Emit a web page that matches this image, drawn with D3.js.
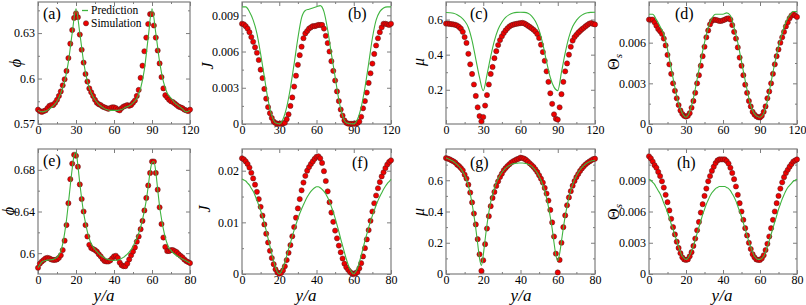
<!DOCTYPE html>
<html>
<head>
<meta charset="utf-8">
<script src="https://cdn.jsdelivr.net/npm/d3@7"></script>
<style>
body{margin:0;background:#fff}
text{font-family:"Liberation Serif","Times New Roman","DejaVu Serif",serif;fill:#000}
</style>
</head>
<body>
<svg id="fig" width="806" height="305"></svg>
<script>
// sample positions along y/a
var xTop = d3.range(0, 120.01, 1.5)
var xTopPred = d3.range(0, 120.01, 3)
var xBot = d3.range(0, 80.01, 1)

// (a) phi, L = 120
var phiSimA = [0.5795,0.5785,0.578,0.5785,0.579,0.5805,0.582,0.5825,0.5825,0.584,
 0.586,0.5885,0.5915,0.5955,0.5995,0.605,0.6135,0.623,0.632,0.64,
 0.643,0.6405,0.629,0.619,0.6105,0.603,0.598,0.5935,0.591,0.5885,
 0.586,0.584,0.583,0.5825,0.5815,0.581,0.5805,0.58,0.5805,0.581,
 0.581,0.5805,0.5795,0.579,0.5805,0.5815,0.582,0.5825,0.582,0.5825,
 0.584,0.5855,0.5885,0.5925,0.6005,0.6085,0.618,0.627,0.636,0.6425,
 0.6425,0.635,0.627,0.6185,0.61,0.601,0.5935,0.589,0.5875,0.586,
 0.585,0.5845,0.5835,0.5825,0.5815,0.581,0.5805,0.5795,0.579,0.5785,
 0.5795]
var phiPredA = [0.579,0.578,0.5785,0.58,0.582,0.585,0.5905,0.598,0.611,0.63,
 0.646,0.63,0.611,0.598,0.5905,0.586,0.583,0.581,0.5795,0.579,
 0.579,0.579,0.5795,0.581,0.582,0.584,0.587,0.5935,0.606,0.627,
 0.646,0.63,0.611,0.598,0.5905,0.587,0.584,0.582,0.58,0.578,
 0.579]

// (b) J
var jSimB = [0.0083,0.00825,0.0081,0.0079,0.0076,0.0072,0.0068,0.00635,0.0059,0.0053,
 0.0045,0.0038,0.0029,0.0021,0.0014,0.0009,0.0005,0.0002,0.00008,0.00003,
 0.00002,0.00003,0.00006,0.0001,0.0004,0.0008,0.0015,0.0022,0.0031,0.004,
 0.0049,0.0057,0.0064,0.0071,0.0075,0.0077,0.0079,0.008,0.0081,0.0081,
 0.00815,0.0082,0.0082,0.0082,0.0079,0.0073,0.0067,0.006,0.0052,0.0044,
 0.0036,0.0027,0.0019,0.0012,0.0007,0.0003,0.0001,0.00003,0.00002,0.00002,
 0.00002,0.00003,0.00008,0.0002,0.0006,0.0013,0.0019,0.0026,0.0034,0.0042,
 0.005,0.0058,0.0065,0.0071,0.0076,0.008,0.0083,0.0083,0.00825,0.0082,
 0.0083]
var jPredB = [0.0097,0.0097,0.0093,0.0086,0.0075,0.0058,0.0039,0.002,0.0007,0.0001,
 0.00001,0.0004,0.0014,0.003,0.005,0.0071,0.0088,0.0094,0.0095,0.0096,
 0.0097,0.0098,0.0093,0.0078,0.0058,0.0039,0.002,0.0007,0.0001,0.00002,
 0.00001,0.0004,0.0014,0.003,0.005,0.0071,0.0086,0.0093,0.0096,0.0097,
 0.0097]

// (c) mu
var muSimC = [0.577,0.577,0.575,0.574,0.572,0.57,0.566,0.558,0.548,0.53,
 0.5,0.467,0.405,0.345,0.29,0.23,0.165,0.1,0.05,0.02,
 0.045,0.11,0.17,0.23,0.29,0.33,0.38,0.42,0.455,0.483,
 0.505,0.523,0.538,0.55,0.56,0.567,0.571,0.574,0.576,0.578,
 0.58,0.581,0.578,0.572,0.565,0.558,0.55,0.542,0.532,0.518,
 0.495,0.457,0.415,0.365,0.305,0.245,0.18,0.12,0.06,0.035,
 0.03,0.1,0.175,0.245,0.305,0.35,0.4,0.445,0.48,0.5,
 0.513,0.525,0.535,0.545,0.553,0.562,0.57,0.577,0.58,0.575,
 0.572]
var muPredC = [0.64,0.639,0.636,0.628,0.614,0.592,0.555,0.48,0.375,0.27,
 0.195,0.285,0.39,0.48,0.545,0.585,0.612,0.628,0.637,0.641,
 0.642,0.641,0.636,0.62,0.59,0.54,0.46,0.36,0.27,0.215,
 0.195,0.3,0.41,0.5,0.56,0.595,0.618,0.632,0.639,0.641,
 0.642]

// (d) Theta_s
var thSimD = [0.0077,0.0077,0.0077,0.0075,0.00725,0.007,0.00685,0.00665,0.0063,0.0058,
 0.0051,0.0044,0.0037,0.003,0.00245,0.0019,0.0014,0.001,0.00075,0.0006,
 0.00055,0.0006,0.0008,0.0012,0.0017,0.0023,0.003,0.0036,0.0043,0.005,
 0.0057,0.0064,0.0069,0.00735,0.0076,0.0077,0.00768,0.00765,0.0076,0.0076,
 0.00765,0.0077,0.00777,0.0078,0.0077,0.0073,0.0068,0.0063,0.00565,0.0049,
 0.0043,0.0036,0.0029,0.0023,0.0017,0.0013,0.0009,0.0007,0.00057,0.0005,
 0.00048,0.0006,0.0009,0.0013,0.0019,0.0024,0.003,0.0037,0.0044,0.005,
 0.0055,0.006,0.0064,0.0068,0.0072,0.0075,0.0078,0.008,0.0081,0.008,
 0.0079]
var thPredD = [0.0081,0.0081,0.0077,0.0072,0.0066,0.0055,0.0041,0.0027,0.0015,0.0008,
 0.0005,0.0009,0.0019,0.0033,0.0047,0.006,0.0071,0.0078,0.0081,0.0081,
 0.0081,0.0082,0.008,0.0071,0.006,0.0046,0.0032,0.0019,0.001,0.0006,
 0.0005,0.0008,0.0017,0.0031,0.0045,0.0057,0.0067,0.0075,0.008,0.0083,
 0.0083]

// (e) phi, L = 80
var phiSimE = [0.586,0.59,0.592,0.5935,0.595,0.5955,0.595,0.594,0.5935,0.5935,
 0.594,0.5955,0.598,0.603,0.612,0.627,0.648,0.671,0.686,0.6945,
 0.6935,0.683,0.666,0.652,0.64,0.627,0.616,0.608,0.605,0.604,
 0.603,0.6015,0.599,0.597,0.5945,0.5925,0.592,0.592,0.593,0.595,
 0.597,0.5975,0.5955,0.591,0.5885,0.5875,0.5875,0.59,0.594,0.598,
 0.6015,0.6055,0.611,0.616,0.623,0.631,0.641,0.653,0.665,0.677,
 0.688,0.688,0.677,0.661,0.644,0.628,0.615,0.606,0.602,0.602,
 0.603,0.603,0.602,0.601,0.599,0.5975,0.596,0.594,0.5925,0.5915,
 0.5905]
var phiPredE = [0.586,0.589,0.5915,0.5925,0.593,0.5933,0.5935,0.5937,0.594,0.595,
 0.596,0.5985,0.602,0.609,0.619,0.632,0.648,0.665,0.681,0.694,
 0.697,0.684,0.667,0.652,0.639,0.629,0.6205,0.614,0.609,0.606,
 0.6035,0.6015,0.5995,0.598,0.5965,0.5955,0.5945,0.594,0.5935,0.5932,
 0.593,0.5932,0.5935,0.594,0.595,0.596,0.5975,0.599,0.601,0.6035,
 0.6065,0.6105,0.6145,0.619,0.625,0.632,0.641,0.651,0.664,0.678,
 0.687,0.688,0.678,0.661,0.645,0.633,0.623,0.615,0.609,0.605,
 0.6025,0.6005,0.599,0.5975,0.5965,0.5955,0.5945,0.5935,0.5925,0.5915,
 0.5905]

// (f) J
var jSimF = [0.0224,0.0222,0.0218,0.0213,0.0206,0.0196,0.0185,0.0173,0.0159,0.0145,
 0.013,0.0113,0.0096,0.0078,0.0061,0.0045,0.0031,0.0019,0.0009,0.0003,
 0.00005,0.0002,0.0007,0.0015,0.0027,0.0041,0.0056,0.0073,0.0091,0.0109,
 0.0127,0.0145,0.0162,0.0177,0.019,0.02,0.0207,0.0213,0.0218,0.0223,
 0.0227,0.0228,0.0224,0.0215,0.0199,0.018,0.016,0.0139,0.0119,0.0101,
 0.0084,0.0069,0.0055,0.0042,0.003,0.002,0.0013,0.0008,0.0004,0.0001,
 0.00002,0.0001,0.0004,0.0011,0.0021,0.0034,0.005,0.0067,0.0085,0.0103,
 0.0121,0.0137,0.0152,0.0166,0.0178,0.0189,0.0197,0.0205,0.0212,0.0217,
 0.022]
var jPredF = [0.0184,0.0182,0.018,0.0176,0.0172,0.0166,0.016,0.0152,0.0143,0.0133,
 0.0123,0.0111,0.0098,0.0084,0.0069,0.0054,0.0039,0.0025,0.0013,0.0004,
 0,0.0004,0.0012,0.0023,0.0035,0.0048,0.006,0.0073,0.0085,0.0096,
 0.0107,0.0117,0.0126,0.0134,0.0142,0.0149,0.0155,0.016,0.0164,0.0167,
 0.0169,0.0169,0.0167,0.0164,0.016,0.0155,0.0148,0.014,0.013,0.012,
 0.0108,0.0095,0.0082,0.0068,0.0055,0.0042,0.0029,0.0018,0.0009,0.0003,
 0,0.0004,0.0011,0.0023,0.0036,0.005,0.0064,0.0077,0.009,0.0102,
 0.0113,0.0123,0.0133,0.0142,0.015,0.0157,0.0164,0.017,0.0175,0.0179,
 0.0183]

// (g) mu
var muSimG = [0.742,0.738,0.734,0.727,0.721,0.713,0.7,0.691,0.678,0.664,
 0.636,0.611,0.572,0.521,0.458,0.387,0.317,0.223,0.126,0.02,
 0.088,0.191,0.291,0.37,0.434,0.487,0.525,0.564,0.593,0.621,
 0.642,0.664,0.678,0.691,0.702,0.713,0.721,0.727,0.734,0.738,
 0.745,0.742,0.738,0.73,0.72,0.708,0.697,0.685,0.67,0.653,
 0.632,0.61,0.585,0.551,0.515,0.47,0.41,0.33,0.24,0.13,
 0.01,0.09,0.2,0.3,0.375,0.44,0.49,0.53,0.565,0.595,
 0.62,0.64,0.66,0.676,0.69,0.702,0.712,0.72,0.728,0.735,
 0.738]
var muPredG = [0.742,0.738,0.733,0.727,0.72,0.711,0.7,0.688,0.673,0.655,
 0.632,0.603,0.565,0.515,0.45,0.375,0.29,0.195,0.1,0.055,
 0.12,0.22,0.315,0.395,0.46,0.51,0.55,0.583,0.61,0.632,
 0.65,0.665,0.677,0.687,0.695,0.701,0.705,0.708,0.709,0.71,
 0.71,0.71,0.709,0.707,0.703,0.697,0.689,0.678,0.664,0.647,
 0.626,0.6,0.568,0.53,0.485,0.43,0.365,0.29,0.2,0.12,
 0.085,0.13,0.21,0.295,0.37,0.435,0.49,0.535,0.572,0.603,
 0.628,0.65,0.667,0.682,0.694,0.704,0.712,0.718,0.723,0.726,
 0.728]

// (h) Theta_s
var thSimH = [0.0113,0.0111,0.0108,0.01045,0.0102,0.0098,0.0094,0.0089,0.0083,0.0076,
 0.0069,0.0061,0.0053,0.0045,0.0038,0.0031,0.0025,0.002,0.0016,0.0014,
 0.00135,0.0014,0.0017,0.0021,0.0027,0.0034,0.0042,0.005,0.0059,0.0067,
 0.0075,0.0082,0.0089,0.0094,0.0099,0.0103,0.01065,0.0109,0.011,0.011,
 0.011,0.011,0.01085,0.0106,0.0102,0.0097,0.0091,0.0084,0.0076,0.0068,
 0.006,0.0052,0.0044,0.0037,0.003,0.0024,0.0019,0.0016,0.0014,0.00135,
 0.00135,0.0015,0.0018,0.0023,0.0029,0.0036,0.0044,0.0052,0.006,0.0068,
 0.0075,0.0082,0.0088,0.0093,0.0097,0.01,0.0103,0.01055,0.0108,0.0109,
 0.011]
var thPredH = [0.0091,0.009,0.0088,0.0086,0.0083,0.008,0.0077,0.0073,0.0068,0.0064,
 0.0059,0.0054,0.0048,0.0043,0.0037,0.0032,0.0026,0.0021,0.0017,0.0015,
 0.0014,0.0015,0.0018,0.0022,0.0027,0.0033,0.0039,0.0045,0.0051,0.0057,
 0.0062,0.0067,0.0071,0.0075,0.0078,0.008,0.0082,0.0083,0.0084,0.0084,
 0.0084,0.0084,0.0083,0.0082,0.008,0.0077,0.0074,0.007,0.0065,0.006,
 0.0055,0.0049,0.0043,0.0037,0.0031,0.0026,0.0021,0.0017,0.0015,0.0014,
 0.0014,0.0015,0.0017,0.0021,0.0026,0.0032,0.0038,0.0044,0.005,0.0056,
 0.0062,0.0067,0.0072,0.0076,0.008,0.0083,0.0085,0.0087,0.0089,0.009,
 0.0091]

// tick values and labels
var xTicksTop = [0, 30, 60, 90, 120]
var xTicksBot = [0, 20, 40, 60, 80]
var yTicksA = [0.57, 0.6, 0.63], yLabA = ["0.57", "0.6", "0.63"]
var yTicksB = [0, 0.003, 0.006, 0.009], yLabB = ["0", "0.003", "0.006", "0.009"]
var yTicksC = [0.2, 0.4, 0.6], yLabC = ["0.2", "0.4", "0.6"]
var yTicksD = [0, 0.003, 0.006], yLabD = ["0", "0.003", "0.006"]
var yTicksE = [0.6, 0.64, 0.68], yLabE = ["0.6", "0.64", "0.68"]
var yTicksF = [0, 0.01, 0.02], yLabF = ["0", "0.01", "0.02"]
var yTicksG = [0, 0.2, 0.4, 0.6], yLabG = ["0", "0.2", "0.4", "0.6"]
var yTicksH = [0, 0.003, 0.006, 0.009], yLabH = ["0", "0.003", "0.006", "0.009"]

var cols = [[38, 190], [242, 391], [446, 595], [649, 797]]
var rows = [[2, 124], [149, 274]]
var frameColor = "#7d7d7d"
var green = "#3fb43f"
var tickFont = "12px"

var panels = [
 {tag:"(a)", c:0, r:0, xs:xTop, sim:phiSimA, xp:xTopPred, pred:phiPredA, xd:[0,120], xt:xTicksTop, yd:[0.57,0.6505], yt:yTicksA, yl:yLabA, lab:"phi", lp:[15,63], tp:[43,19]},
 {tag:"(b)", c:1, r:0, xs:xTop, sim:jSimB, xp:xTopPred, pred:jPredB, xd:[0,120], xt:xTicksTop, yd:[0,0.0101], yt:yTicksB, yl:yLabB, lab:"J", lp:[207,66], tp:[348,19]},
 {tag:"(c)", c:2, r:0, xs:xTop, sim:muSimC, xp:xTopPred, pred:muPredC, xd:[0,120], xt:xTicksTop, yd:[0.005,0.7], yt:yTicksC, yl:yLabC, lab:"mu", lp:[418,62], tp:[470,19]},
 {tag:"(d)", c:3, r:0, xs:xTop, sim:thSimD, xp:xTopPred, pred:thPredD, xd:[0,120], xt:xTicksTop, yd:[0,0.009], yt:yTicksD, yl:yLabD, lab:"theta", lp:[613,62], tp:[675,19]},
 {tag:"(e)", c:0, r:1, xs:xBot, sim:phiSimE, xp:xBot, pred:phiPredE, xd:[0,80], xt:xTicksBot, yd:[0.58,0.70], yt:yTicksE, yl:yLabE, lab:"phi", lp:[8,211], tp:[43,166]},
 {tag:"(f)", c:1, r:1, xs:xBot, sim:jSimF, xp:xBot, pred:jPredF, xd:[0,80], xt:xTicksBot, yd:[0,0.0242], yt:yTicksF, yl:yLabF, lab:"J", lp:[204,209], tp:[352,168]},
 {tag:"(g)", c:2, r:1, xs:xBot, sim:muSimG, xp:xBot, pred:muPredG, xd:[0,80], xt:xTicksBot, yd:[0,0.8], yt:yTicksG, yl:yLabG, lab:"mu", lp:[418,212], tp:[470,168]},
 {tag:"(h)", c:3, r:1, xs:xBot, sim:thSimH, xp:xBot, pred:thPredH, xd:[0,80], xt:xTicksBot, yd:[0,0.012], yt:yTicksH, yl:yLabH, lab:"theta", lp:[613,212], tp:[677,168]}
]
var xLabelCenters = [104, 306, 521, 722]

var svg = d3.select("#fig")

function minorTicks(t, dom){
    var step = t[1]-t[0], out = []
    for(var j=-2; j<t.length+2; j++){
        var v = t[0] + (j+0.5)*step
        if(v > dom[0]+1e-12 && v < dom[1]-1e-12) out.push(v)
    }
    return out
}

function styleAxis(sel){
    sel.attr("font-family", null).attr("font-size", null)
    sel.select(".domain").remove()
    sel.selectAll(".tick line").attr("stroke", frameColor)
    sel.selectAll(".tick text").style("font-size", tickFont).attr("fill", "#000")
}

panels.forEach(function(p){
    var xr = cols[p.c], yr = rows[p.r]
    var x = d3.scaleLinear().domain(p.xd).range(xr)
    var y = d3.scaleLinear().domain(p.yd).range([yr[1], yr[0]])
    var g = svg.append("g")

    var xm = minorTicks(p.xt, p.xd), ym = minorTicks(p.yt, p.yd)

    // ticks pointing inward on all four sides
    g.append("g").attr("transform", "translate(0," + yr[1] + ")")
        .call(d3.axisBottom(x).tickValues(p.xt).tickSize(-4).tickPadding(1).tickFormat(d3.format("d")))
        .call(styleAxis)
    g.append("g").attr("transform", "translate(0," + yr[1] + ")")
        .call(d3.axisBottom(x).tickValues(xm).tickSize(-2).tickFormat(""))
        .call(styleAxis)
    g.append("g").attr("transform", "translate(0," + yr[0] + ")")
        .call(d3.axisTop(x).tickValues(p.xt).tickSize(-4).tickFormat(""))
        .call(styleAxis)
    g.append("g").attr("transform", "translate(0," + yr[0] + ")")
        .call(d3.axisTop(x).tickValues(xm).tickSize(-2).tickFormat(""))
        .call(styleAxis)
    g.append("g").attr("transform", "translate(" + xr[0] + ",0)")
        .call(d3.axisLeft(y).tickValues(p.yt).tickSize(-4).tickPadding(3)
            .tickFormat(function(d, i){ return p.yl[i] }))
        .call(styleAxis)
    g.append("g").attr("transform", "translate(" + xr[0] + ",0)")
        .call(d3.axisLeft(y).tickValues(ym).tickSize(-2).tickFormat(""))
        .call(styleAxis)
    g.append("g").attr("transform", "translate(" + xr[1] + ",0)")
        .call(d3.axisRight(y).tickValues(p.yt).tickSize(-4).tickFormat(""))
        .call(styleAxis)
    g.append("g").attr("transform", "translate(" + xr[1] + ",0)")
        .call(d3.axisRight(y).tickValues(ym).tickSize(-2).tickFormat(""))
        .call(styleAxis)

    g.append("rect")
        .attr("x", xr[0]).attr("y", yr[0])
        .attr("width", xr[1]-xr[0]).attr("height", yr[1]-yr[0])
        .attr("fill", "none").attr("stroke", frameColor).attr("stroke-width", 1.2)

    // simulation points
    g.append("g").selectAll("circle")
        .data(d3.zip(p.xs, p.sim))
        .join("circle")
        .attr("cx", function(d){ return x(d[0]) })
        .attr("cy", function(d){ return y(d[1]) })
        .attr("r", 2.6)
        .attr("fill", "#f00000")
        .attr("stroke", "#4a2020")
        .attr("stroke-width", 0.5)

    // prediction curve
    var line = d3.line()
        .x(function(d){ return x(d[0]) })
        .y(function(d){ return y(d[1]) })
        .curve(d3.curveMonotoneX)
    g.append("path")
        .datum(d3.zip(p.xp, p.pred))
        .attr("d", line)
        .attr("fill", "none")
        .attr("stroke", green)
        .attr("stroke-width", 1.1)

    // panel tag
    g.append("text").attr("x", p.tp[0]).attr("y", p.tp[1])
        .style("font-size", "16px").text(p.tag)

    // y label, rotated
    var yl = g.append("text")
        .attr("transform", "translate(" + p.lp[0] + "," + p.lp[1] + ") rotate(-90)")
        .attr("text-anchor", "middle")
        .attr("dy", "0.35em")
        .style("font-size", "16px")
    if(p.lab == "phi") yl.style("font-style", "italic").text("\u03D5")
    else if(p.lab == "J") yl.style("font-style", "italic").text("J")
    else if(p.lab == "mu") yl.style("font-style", "italic").text("\u03BC")
    else {
        yl.append("tspan").text("\u0398")
        yl.append("tspan").attr("dy", "3").style("font-size", "11px").style("font-style", "italic").text("s")
    }

    if(p.r == 1){
        g.append("text").attr("x", xLabelCenters[p.c]).attr("y", 301)
            .attr("text-anchor", "middle")
            .style("font-size", "17px").style("font-style", "italic")
            .text("y/a")
    }
})

// legend in panel (a)
var lg = svg.append("g")
lg.append("line").attr("x1", 82).attr("x2", 88).attr("y1", 10.5).attr("y2", 10.5)
    .attr("stroke", green).attr("stroke-width", 1.3)
lg.append("text").attr("x", 91).attr("y", 14.3).style("font-size", "11.5px").text("Prediction")
lg.append("circle").attr("cx", 86).attr("cy", 23.3).attr("r", 2.6)
    .attr("fill", "#f00000").attr("stroke", "#4a2020").attr("stroke-width", 0.5)
lg.append("text").attr("x", 91).attr("y", 27.3).style("font-size", "11.5px").text("Simulation")
</script>
</body>
</html>
